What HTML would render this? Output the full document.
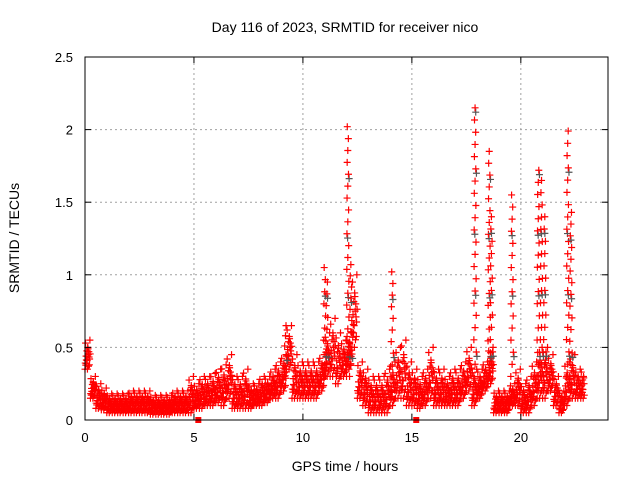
<!DOCTYPE html>
<html><head><meta charset="utf-8"><style>
body{margin:0;background:#fff}
svg{display:block;font-family:"Liberation Sans",sans-serif}
</style></head><body>
<svg id="chart" width="640" height="480">
<rect width="640" height="480" fill="#fff"/>
<g id="grid"></g>
<g id="pts"></g>
<g id="axes"></g>
<text x="345" y="32" font-size="14" text-anchor="middle">Day 116 of 2023, SRMTID for receiver nico</text>
<text x="345" y="471" font-size="14" text-anchor="middle">GPS time / hours</text>
<text transform="translate(19,238) rotate(-90)" font-size="14" text-anchor="middle">SRMTID / TECUs</text>
</svg>
<script>
const xTicks=[0,5,10,15,20];
const yTicks=[0,0.5,1,1.5,2,2.5];
const yTickLabels=["0","0.5","1","1.5","2","2.5"];
const binStart=[0,0.25,0.5,0.75,1,1.25,1.5,1.75,2,2.25,2.5,2.75,3,3.25,3.5,3.75,4,4.25,4.5,4.75,5,5.25,5.5,5.75,6,6.25,6.5,6.75,7,7.25,7.5,7.75,8,8.25,8.5,8.75,9,9.25,9.5,9.75,10,10.25,10.5,10.75,11,11.25,11.5,11.75,12,12.25,12.5,12.75,13,13.25,13.5,13.75,14,14.25,14.5,14.75,15,15.25,15.5,15.75,16,16.25,16.5,16.75,17,17.25,17.5,17.75,18,18.25,18.5,18.75,19,19.25,19.5,19.75,20,20.25,20.5,20.75,21,21.25,21.5,21.75,22,22.25,22.5,22.75];
const binLow=[.35,.15,.08,.07,.05,.05,.05,.05,.05,.05,.05,.05,.04,.04,.04,.04,.05,.05,.05,.05,.08,.08,.1,.1,.12,.1,.15,.08,.08,.08,.08,.1,.1,.12,.15,.15,.2,.35,.15,.15,.15,.15,.15,.2,.3,.3,.25,.3,.35,.5,.15,.1,.05,.05,.05,.05,.1,.15,.15,.1,.1,.08,.1,.15,.1,.1,.1,.1,.1,.15,.2,.1,.15,.2,.25,.05,.05,.05,.1,.1,.05,.05,.1,.15,.15,.2,.1,.05,.1,.15,.15,.15];
const binHigh=[.55,.3,.25,.22,.18,.18,.18,.18,.2,.2,.2,.2,.17,.17,.17,.17,.2,.2,.2,.3,.25,.3,.3,.32,.35,.38,.45,.3,.3,.35,.25,.25,.3,.3,.35,.4,.45,.65,.45,.4,.4,.4,.4,.45,.6,.7,.6,.55,.6,1.0,.4,.35,.3,.3,.3,.35,.4,.5,.55,.4,.35,.3,.35,.5,.35,.35,.3,.35,.35,.4,.5,.35,.35,.4,.5,.2,.2,.2,.25,.35,.25,.3,.4,.5,.5,.45,.3,.2,.4,.45,.35,.35];
const spikeTime=[9.2,11.0,11.1,12.06,12.2,14.1,17.9,18.55,18.65,19.6,20.8,20.95,21.1,22.15,22.3];
const spikePeak=[0.65,1.05,0.95,2.02,1.07,1.02,2.15,1.85,1.4,1.55,1.72,1.65,1.4,1.99,1.43];
const markerTime=[5.2,15.2];

const X0=85,X1=608,Y0=420,Y1=57,XMAX=24,YMAX=2.5;
const xs=v=>X0+(X1-X0)*v/XMAX, ys=v=>Y0-(Y0-Y1)*v/YMAX;
const NS="http://www.w3.org/2000/svg";
function mk(tag,attrs,parent){const e=document.createElementNS(NS,tag);for(const k in attrs)e.setAttribute(k,attrs[k]);parent.appendChild(e);return e;}
const grid=document.getElementById('grid'),axes=document.getElementById('axes'),pts=document.getElementById('pts');
xTicks.forEach((t,i)=>{const x=xs(t);
 if(t>0){const l=mk('line',{x1:x,x2:x,y1:Y0,y2:Y1,stroke:'#a0a0a0','stroke-dasharray':'2,3'},grid);}
 mk('line',{x1:x,x2:x,y1:Y0,y2:Y0-6,stroke:'#000'},axes);mk('line',{x1:x,x2:x,y1:Y1,y2:Y1+6,stroke:'#000'},axes);
 const tx=mk('text',{x:x,y:Y0+22,'font-size':13,'text-anchor':'middle'},axes);tx.textContent=String(t);
 });
yTicks.forEach((t,i)=>{const y=ys(t);
 if(t>0&&t<YMAX){const l=mk('line',{x1:X0,x2:X1,y1:y,y2:y,stroke:'#a0a0a0','stroke-dasharray':'2,3'},grid);}
 mk('line',{x1:X0,x2:X0+6,y1:y,y2:y,stroke:'#000'},axes);mk('line',{x1:X1,x2:X1-6,y1:y,y2:y,stroke:'#000'},axes);
 const tx=mk('text',{x:X0-12,y:y+5,'font-size':13,'text-anchor':'end'},axes);tx.textContent=yTickLabels[i];
 });
const frame=mk('rect',{x:X0,y:Y1,width:X1-X0,height:Y0-Y1,fill:'none',stroke:'#000'},axes);


function plus(t,v,col){const x=xs(t),y=ys(v);
 const p=mk('path',{d:`M${x-3.5},${y}h7M${x},${y-3.5}v7`,stroke:col,'stroke-width':1.2,fill:'none'},pts);
 }
const fr=[0,.6,.3,.9,.15,.75,.45,1,.5,.2];
binStart.forEach((t,i)=>{
 const lo=binLow[i],hi=binHigh[i];
 for(let k=0;k<fr.length;k++){
  const tt=t+0.25*k/fr.length;
  if(tt>22.9)break;
  plus(tt,lo+(hi-lo)*fr[(k*3)%fr.length],'#ff0000');
  plus(tt+0.012,lo+(hi-lo)*fr[(k*7+2)%fr.length]*0.7,'#ff0000');
 }
});
spikeTime.forEach((t,i)=>{
 const pk=spikePeak[i];const n=Math.ceil((pk-0.3)/0.085);
 for(let k=0;k<=n;k++){const v=0.3+(pk-0.3)*k/n;const off=((k%3)-1)*0.06*(1-0.6*k/n);
  if(k%5===2)plus(t+off+0.03,v-0.03,'#555');
  plus(t+off,v,'#ff0000');}
});
markerTime.forEach(t=>{const r=mk('rect',{x:xs(t)-3,y:Y0-3,width:6,height:6,fill:'#ff0000'},pts);
 });
</script>
</body></html>
